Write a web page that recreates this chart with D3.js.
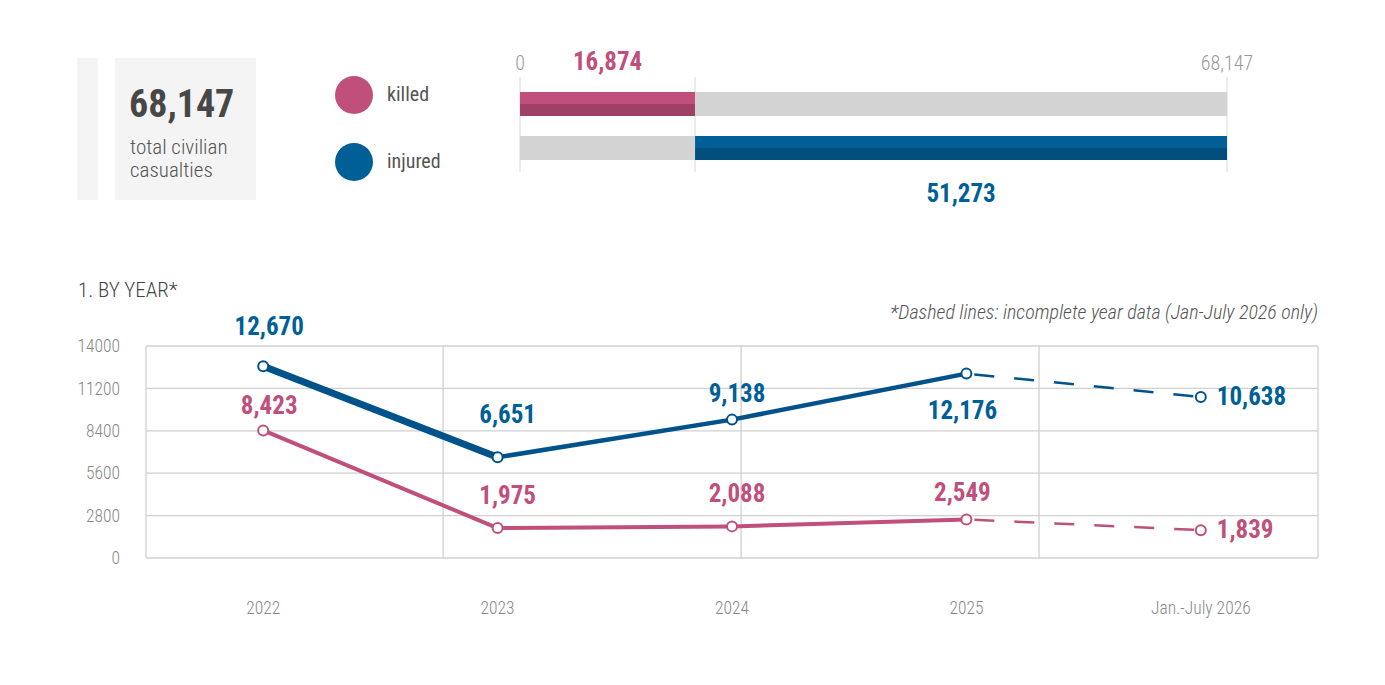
<!DOCTYPE html>
<html><head><meta charset="utf-8">
<script src="https://cdn.jsdelivr.net/npm/d3@7"></script>
<style>
html,body{margin:0;padding:0;background:#fff;}
svg{display:block;font-family:"Roboto Condensed","Liberation Sans Narrow","DejaVu Sans Condensed",Roboto,sans-serif;}
</style></head>
<body>
<svg id="c" width="1385" height="685"></svg>
<script>
// ---- data ----
const totalCasualties = 68147;
const totalLabel = ["total civilian", "casualties"];
const legendItems = ["killed", "injured"];
const totals = [16874, 51273]; // killed, injured
const years = ["2022", "2023", "2024", "2025", "Jan.-July 2026"];
const killed = [8423, 1975, 2088, 2549, 1839];
const injured = [12670, 6651, 9138, 12176, 10638];
const yTicks = [0, 2800, 5600, 8400, 11200, 14000];
const sectionTitle = "1. BY YEAR*";
const note = "*Dashed lines: incomplete year data (Jan-July 2026 only)";

const PINK = "#c0507b", PINK_D = "#9e4068";
const BLUE = "#005f96", BLUE_D = "#004e7e", BLUE_LINE = "#00528a";
const GRAYBAR = "#d4d3d3";
const fmt = d3.format(",");

const svg = d3.select("#c");

// ---- summary box ----
svg.append("rect").attr("x", 77).attr("y", 58).attr("width", 21).attr("height", 142).attr("fill", "#f4f4f4");
svg.append("rect").attr("x", 115).attr("y", 58).attr("width", 141).attr("height", 142).attr("fill", "#f4f4f4");
svg.append("text").attr("x", 129).attr("y", 117).attr("font-size", 38).attr("font-weight", 700)
  .attr("fill", "#474747").text(fmt(totalCasualties));
svg.selectAll("text.tl").data(totalLabel).join("text").attr("class", "tl")
  .attr("x", 130).attr("y", (d, i) => 154 + i * 23).attr("font-size", 21).attr("font-weight", 300)
  .attr("fill", "#555").text(d => d);

// ---- legend ----
const legColors = [PINK, BLUE];
const legY = d3.scalePoint().domain(legendItems).range([95, 162]);
const lg = svg.selectAll("g.leg").data(legendItems).join("g").attr("class", "leg")
  .attr("transform", d => `translate(354,${legY(d)})`);
lg.append("circle").attr("r", 19).attr("fill", (d, i) => legColors[i]);
lg.append("text").attr("x", 33).attr("dy", "0.3em").attr("font-size", 20).attr("fill", "#555").text(d => d);

// ---- stacked total bars ----
const bx = d3.scaleLinear().domain([0, totalCasualties]).range([520, 1227]);
const barY = [92, 136], barH = 24;
[0, totals[0], totalCasualties].forEach(v => {
  svg.append("line").attr("x1", bx(v)).attr("x2", bx(v)).attr("y1", 77).attr("y2", 172)
    .attr("stroke", "#d8d8d8").attr("stroke-width", 1);
});
function halfBar(x0, x1, yy, cTop, cBot) {
  svg.append("rect").attr("x", x0).attr("y", yy).attr("width", x1 - x0).attr("height", barH / 2).attr("fill", cTop);
  svg.append("rect").attr("x", x0).attr("y", yy + barH / 2).attr("width", x1 - x0).attr("height", barH / 2).attr("fill", cBot);
}
halfBar(bx(0), bx(totals[0]), barY[0], PINK, PINK_D);
halfBar(bx(totals[0]), bx(totalCasualties), barY[0], GRAYBAR, GRAYBAR);
halfBar(bx(0), bx(totals[0]), barY[1], GRAYBAR, GRAYBAR);
halfBar(bx(totals[0]), bx(totals[0] + totals[1]), barY[1], BLUE, BLUE_D);
svg.append("text").attr("x", bx(0)).attr("y", 70).attr("text-anchor", "middle").attr("font-size", 20).attr("font-weight", 300).attr("fill", "#999").text("0");
svg.append("text").attr("x", bx(totalCasualties)).attr("y", 70).attr("text-anchor", "middle").attr("font-size", 20).attr("font-weight", 300).attr("fill", "#999").text(fmt(totalCasualties));
svg.append("text").attr("x", bx(totals[0] / 2)).attr("y", 70).attr("text-anchor", "middle").attr("font-size", 25).attr("font-weight", 700).attr("fill", PINK).text(fmt(totals[0]));
svg.append("text").attr("x", bx(totals[0] + totals[1] / 2)).attr("y", 202).attr("text-anchor", "middle").attr("font-size", 25).attr("font-weight", 700).attr("fill", BLUE).text(fmt(totals[1]));

// ---- line chart ----
const L = 146, R = 1318, T = 346, B = 558;
svg.append("text").attr("x", 78).attr("y", 297).attr("font-size", 21).attr("font-weight", 300).attr("fill", "#444").text(sectionTitle);
svg.append("text").attr("x", R).attr("y", 319).attr("text-anchor", "end").attr("font-size", 20).attr("font-weight", 300)
  .attr("font-style", "italic").attr("fill", "#555").text(note);

const x = d3.scaleBand().domain(years).range([L, R]);
const cx = d => x(d) + x.bandwidth() / 2;
const y = d3.scaleLinear().domain([0, 14000]).range([B, T]);

svg.append("g").selectAll("line").data(yTicks).join("line")
  .attr("x1", L).attr("x2", R).attr("y1", d => y(d)).attr("y2", d => y(d))
  .attr("stroke", "#d0d0d0").attr("stroke-width", 1.3);
const gx = d3.scaleLinear().domain([0, 1]).range([L, R]);
svg.append("g").selectAll("line").data([0, 0.2535, 0.5078, 0.7620, 1]).join("line")
  .attr("x1", d => gx(d)).attr("x2", d => gx(d)).attr("y1", T).attr("y2", B)
  .attr("stroke", "#d0d0d0").attr("stroke-width", 1.3);

const yAxis = d3.axisLeft(y).tickValues(yTicks).tickSize(0).tickPadding(0).tickFormat(d3.format("d"));
const ya = svg.append("g").attr("transform", `translate(120,0)`).call(yAxis)
  .attr("font-family", null).attr("font-size", null);
ya.select(".domain").remove();
ya.selectAll("text").attr("font-size", 17.5).attr("font-weight", 300).attr("fill", "#888");
const xAxis = d3.axisBottom(x).tickSize(0).tickPadding(0);
const xa = svg.append("g").attr("transform", `translate(0,${614})`).call(xAxis)
  .attr("font-family", null).attr("font-size", null);
xa.select(".domain").remove();
xa.selectAll("text").attr("font-size", 17.5).attr("font-weight", 300).attr("fill", "#888").attr("dy", 0);

const line = d3.line().x(d => cx(d.year)).y(d => y(d.v));
function seriesData(arr) { return arr.map((v, i) => ({ year: years[i], v })); }

function drawSeries(arr, color, widths) {
  const d = seriesData(arr);
  for (let i = 0; i < d.length - 1; i++) {
    const dashed = i === d.length - 2;
    svg.append("path").datum([d[i], d[i + 1]]).attr("d", line).attr("fill", "none")
      .attr("stroke", color).attr("stroke-width", widths[i])
      .attr("stroke-dasharray", dashed ? "20,20" : null).attr("stroke-dashoffset", dashed ? -8 : null);
  }
  svg.append("g").selectAll("circle").data(d).join("circle")
    .attr("cx", p => cx(p.year)).attr("cy", p => y(p.v)).attr("r", 5)
    .attr("fill", "#fff").attr("stroke", color).attr("stroke-width", 2);
}
drawSeries(killed, PINK, [4, 4, 4, 2.5]);
drawSeries(injured, BLUE_LINE, [7, 4.5, 4.5, 2.5]);

const injLab = [[6, -31, "middle"], [10, -34, "middle"], [5, -18, "middle"], [-4, 45, "middle"], [16, 8, "start"]];
const kilLab = [[6, -16, "middle"], [10, -24, "middle"], [5, -24, "middle"], [-4, -18, "middle"], [16, 8, "start"]];
function labels(arr, offs, color) {
  svg.append("g").selectAll("text").data(seriesData(arr)).join("text")
    .attr("x", (p, i) => cx(p.year) + offs[i][0]).attr("y", (p, i) => y(p.v) + offs[i][1])
    .attr("text-anchor", (p, i) => offs[i][2]).attr("font-size", 25).attr("font-weight", 700)
    .attr("fill", color).text(p => fmt(p.v));
}
labels(injured, injLab, BLUE);
labels(killed, kilLab, PINK);
</script>
</body></html>
